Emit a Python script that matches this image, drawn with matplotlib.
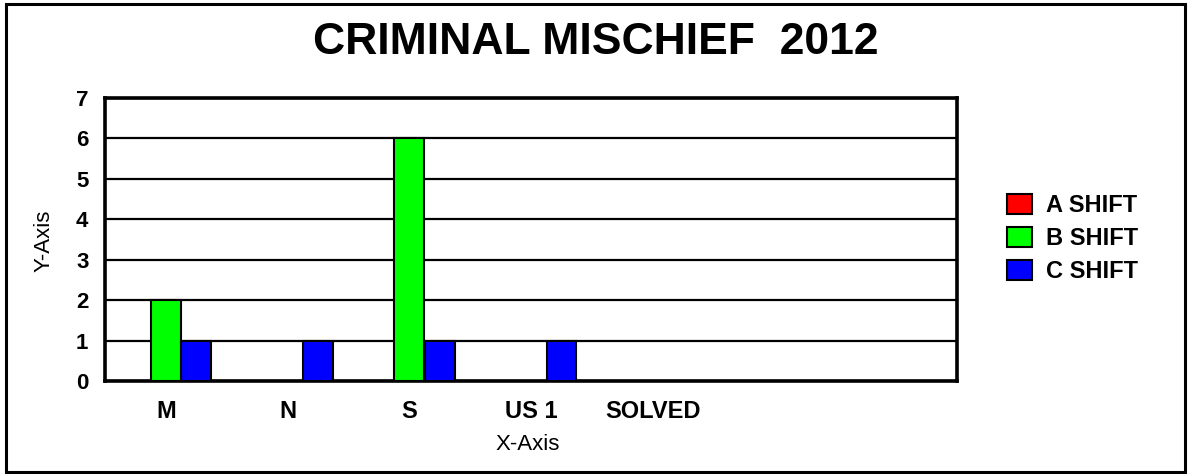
import numpy as np
import matplotlib
matplotlib.use('Agg')
import matplotlib.pyplot as plt
from matplotlib.patches import Rectangle

plt.rcParams['font.family'] = ['Liberation Sans', 'DejaVu Sans']

# chart data
categories = ['M', 'N', 'S', 'US 1', 'SOLVED', '', '']
series_names = ['A SHIFT', 'B SHIFT', 'C SHIFT']
a_shift = [0, 0, 0, 0, 0, 0, 0]
b_shift = [2, 0, 6, 0, 0, 0, 0]
c_shift = [1, 1, 1, 1, 0, 0, 0]
colors = ['#ff0000', '#00ff00', '#0000ff']

W, H = 1188, 474
fig = plt.figure(figsize=(W/100, H/100), dpi=100)

# outer frame round the figure
fig.patches.append(Rectangle((6/W, 2/H), 1179/W, 468/H, transform=fig.transFigure,
                             fill=False, edgecolor='black', lw=2.2))

ax = fig.add_axes([105/W, (H-381)/H, (957-105)/W, (381-98)/H])

x = np.arange(len(categories))
bw = 0.245
for k, (vals, name, col) in enumerate(zip([a_shift, b_shift, c_shift], series_names, colors)):
    ax.bar(x + (k-1)*0.25, vals, bw, color=col, edgecolor='black', linewidth=1.5,
           label=name, zorder=3)

ax.set_xlim(-0.5, len(categories)-0.5)
ax.set_ylim(0, 7)
ax.set_yticks(range(0, 8))
ax.set_xticks(x)
ax.set_xticklabels(categories)
ax.yaxis.grid(True, color='black', lw=1.6, zorder=1)
ax.set_axisbelow(True)
for s in ax.spines.values():
    s.set_linewidth(2.6)
ax.tick_params(axis='both', length=0)
ax.tick_params(axis='y', pad=12, labelsize=16)
ax.tick_params(axis='x', pad=14, labelsize=17)
for t in ax.get_xticklabels() + ax.get_yticklabels():
    t.set_fontweight('bold')

ax.set_xlabel('X-Axis', fontsize=16)
ax.xaxis.set_label_coords((528-105)/(957-105), -(445-381)/(381-98), transform=ax.transAxes)
ax.xaxis.label.set_va('center')
ax.set_ylabel('Y-Axis', fontsize=16)
ax.yaxis.set_label_coords(-(105-44)/(957-105), (381-241)/(381-98), transform=ax.transAxes)
ax.yaxis.label.set_va('center')

fig.text(596/W, 1-42/H, 'CRIMINAL MISCHIEF  2012', fontsize=32, fontweight='bold',
         ha='center', va='center')

leg = fig.legend(loc='upper left', bbox_to_anchor=(1007/W, 1-194/H), frameon=False,
                 prop={'weight': 'bold', 'size': 17}, handlelength=1.06, handleheight=0.93,
                 handletextpad=0.6, labelspacing=0.42, borderaxespad=0, borderpad=0)

fig.savefig('out.png', dpi=100)
